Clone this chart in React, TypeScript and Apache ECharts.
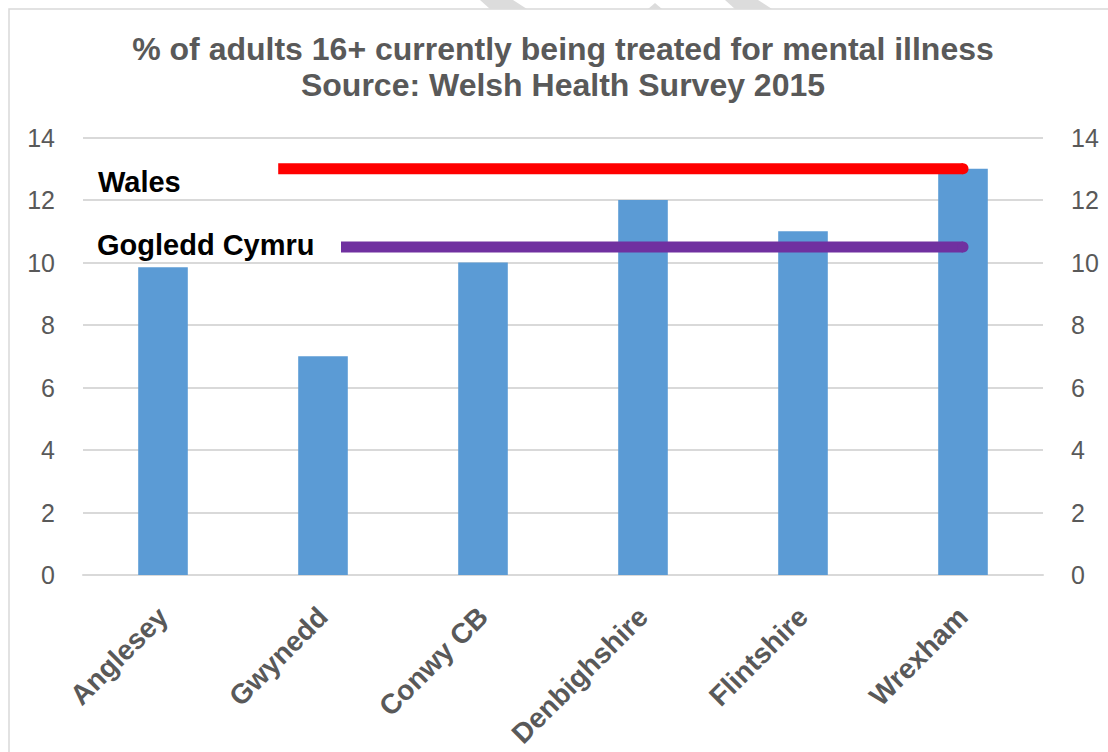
import React, { useEffect, useRef } from "react";
import * as echarts from "echarts";

const categories = ["Anglesey", "Gwynedd", "Conwy CB", "Denbighshire", "Flintshire", "Wrexham"];
const values = [9.85, 7, 10, 12, 11, 13];
const yTicks = [0, 2, 4, 6, 8, 10, 12, 14];

const walesLabel = "Wales";
const walesValue = 13;
const northWalesLabel = "Gogledd Cymru";
const northWalesValue = 10.5;

const titleLines = ["% of adults 16+ currently being treated for mental illness", "Source: Welsh Health Survey 2015"];

export default function App() {
  const ref = useRef<HTMLDivElement>(null);
  useEffect(() => {
    if (!ref.current) return;
    const chart = echarts.init(ref.current, null, { renderer: "svg" });
    const font = "'Liberation Sans', Arial, sans-serif";
    const gray = "#595959";
    const yMax = yTicks[yTicks.length - 1];
    const yInterval = yTicks[1] - yTicks[0];
    const refLine = (val: number, start: number, end: number, color: string) => ({
      type: "line",
      xAxisIndex: 1,
      yAxisIndex: 0,
      z: 5,
      silent: true,
      lineStyle: { color, width: 11, cap: "butt" },
      itemStyle: { color },
      data: [
        { value: [start, val], symbol: "none" },
        { value: [end, val], symbol: "circle", symbolSize: 11 },
      ],
    });
    chart.setOption({
      animation: false,
      backgroundColor: "#ffffff",
      grid: { left: 83, right: 65, top: 137.6, bottom: 177, containLabel: false },
      xAxis: [
        {
          type: "category",
          data: categories,
          axisLine: { show: true, lineStyle: { color: "#d9d9d9", width: 2 } },
          axisTick: { show: false },
          axisLabel: { rotate: 45, margin: 37, fontFamily: font, fontSize: 28, fontWeight: "bold", color: gray, interval: 0 },
        },
        { type: "value", min: 0, max: categories.length, show: false },
      ],
      yAxis: [
        {
          type: "value",
          min: 0,
          max: yMax,
          interval: yInterval,
          position: "left",
          axisLine: { show: false },
          axisTick: { show: false },
          splitLine: { lineStyle: { color: "#d9d9d9", width: 2 } },
          axisLabel: { margin: 28, fontFamily: font, fontSize: 25, color: gray },
        },
        {
          type: "value",
          min: 0,
          max: yMax,
          interval: yInterval,
          position: "right",
          axisLine: { show: false },
          axisTick: { show: false },
          splitLine: { show: false },
          axisLabel: { margin: 28, fontFamily: font, fontSize: 25, color: gray },
        },
      ],
      series: [
        {
          type: "bar",
          data: values,
          barWidth: "31%",
          itemStyle: { color: "#5B9BD5" },
          z: 2,
        },
        refLine(walesValue, 1.22, 5.5, "#FF0000"),
        refLine(northWalesValue, 1.6125, 5.5, "#7030A0"),
      ],
      graphic: [
        {
          type: "rect",
          shape: { x: 9, y: 9, width: 1120, height: 760 },
          style: { fill: "none", stroke: "#d9d9d9", lineWidth: 1.5 },
          z: 0,
          silent: true,
        },
        { type: "polygon", shape: { points: [[480, 0], [513, 0], [527, 9], [490, 9]] }, style: { fill: "#dcdcdc" }, silent: true },
        { type: "polygon", shape: { points: [[648, 9], [655, 3], [662, 9]] }, style: { fill: "#dcdcdc" }, silent: true },
        { type: "polygon", shape: { points: [[725, 0], [758, 0], [772, 9], [735, 9]] }, style: { fill: "#dcdcdc" }, silent: true },
        {
          type: "text",
          x: 563,
          y: 31,
          z: 10,
          style: {
            text: titleLines.join("\n"),
            fontFamily: font,
            fontSize: 32,
            fontWeight: "bold",
            fill: gray,
            lineHeight: 36,
            align: "center",
            verticalAlign: "top",
          },
        },
        {
          type: "text",
          left: 98,
          top: 167,
          z: 10,
          style: { text: walesLabel, fontFamily: font, fontSize: 29, fontWeight: "bold", fill: "#000000" },
        },
        {
          type: "text",
          left: 97,
          top: 230,
          z: 10,
          style: { text: northWalesLabel, fontFamily: font, fontSize: 29, fontWeight: "bold", fill: "#000000" },
        },
      ],
    });
    return () => chart.dispose();
  }, []);
  return <div ref={ref} style={{ position: "fixed", left: 0, top: 0, width: 1108, height: 752 }} />;
}
